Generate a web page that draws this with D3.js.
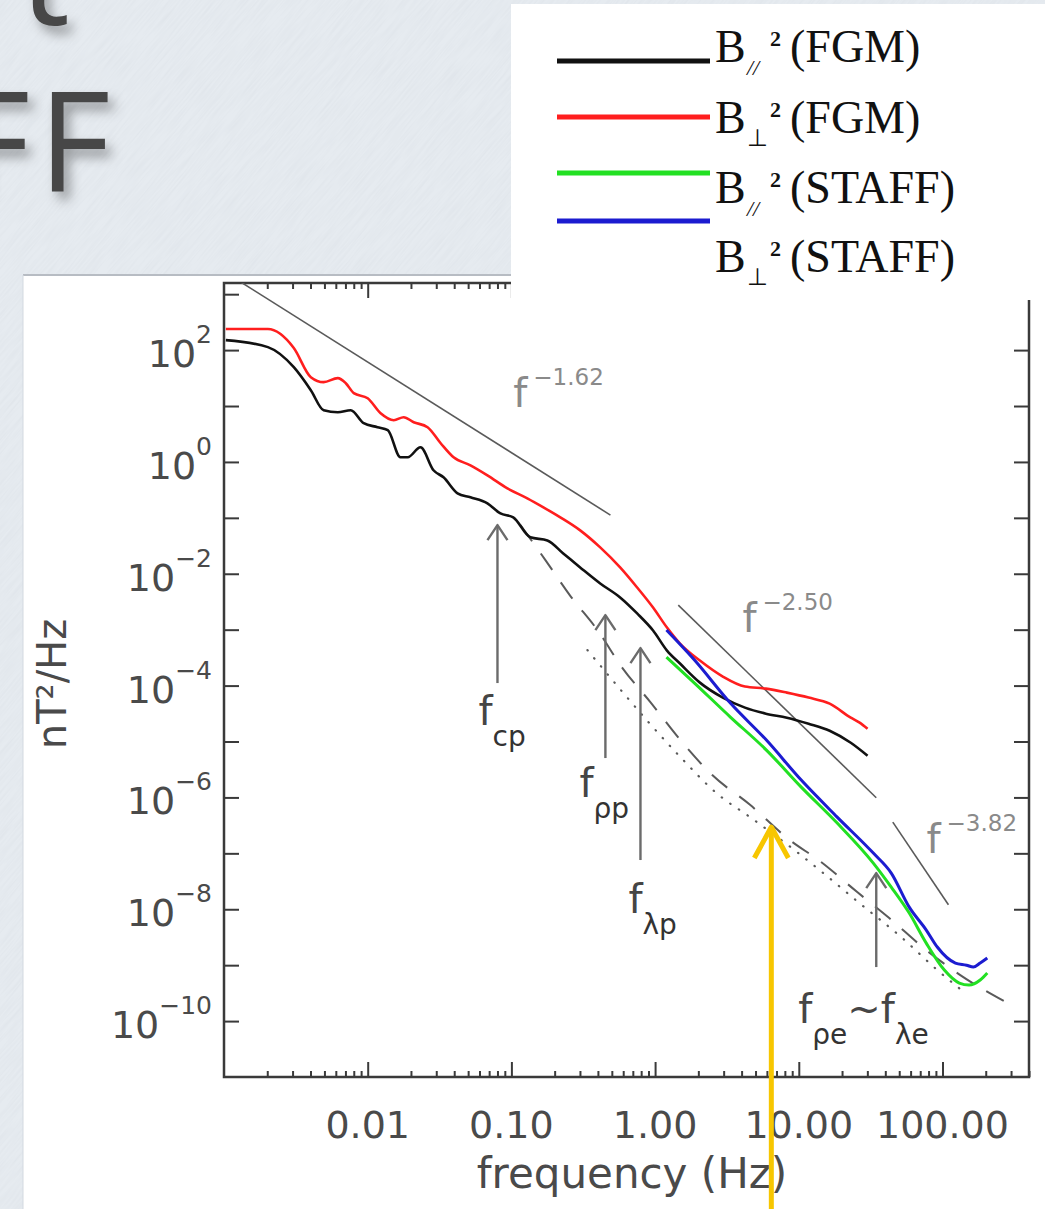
<!DOCTYPE html>
<html>
<head>
<meta charset="utf-8">
<script src="https://cdn.jsdelivr.net/npm/d3@7"></script>
<style>
  body { margin: 0; background: #e6ebf0; }
  svg { display: block; }
</style>
</head>
<body>
<div id="chart"></div>
<script>
// ---------- values ----------
const xDomain = [0.001, 400];
const yDomain = [1e-11, Math.pow(10, 3.2)];

const xMajorTicks = [0.01, 0.1, 1, 10, 100];
const xTickLabels = ["0.01", "0.10", "1.00", "10.00", "100.00"];
const yTickExponents = [-10, -9, -8, -7, -6, -5, -4, -3, -2, -1, 0, 1, 2, 3];
const yLabelExponents = [-10, -8, -6, -4, -2, 0, 2];

// B_par^2 (FGM) - black
const fgmParFreq = [0.00103, 0.00202, 0.00306, 0.00402, 0.00494, 0.00619, 0.00762, 0.00938, 0.0117, 0.0138,
  0.0169, 0.0190, 0.0233, 0.0287, 0.0337, 0.0422, 0.0519, 0.0681, 0.0839, 0.103,
  0.1355, 0.178, 0.2296, 0.301, 0.415, 0.571, 0.750, 0.968, 1.21, 1.49,
  2.05, 2.96, 4.22, 5.90, 8.26, 11.7, 16.4, 23.0, 30.1];
const fgmParPsd = [151, 113, 49.5, 19.2, 8.4, 7.75, 8.4, 4.92, 4.18, 3.69,
  1.21, 1.21, 1.83, 0.71, 0.531, 0.275, 0.233, 0.182, 0.120, 0.102,
  0.0448, 0.0395, 0.0231, 0.0130, 0.00671, 0.00377, 0.00195, 0.000966, 0.000423, 0.000248,
  0.000113, 6.1e-5, 4.04e-5, 3.15e-5, 2.67e-5, 2.08e-5, 1.56e-5, 9.5e-6, 5.57e-6];

// B_perp^2 (FGM) - red
const fgmPerpFreq = [0.00103, 0.00202, 0.00306, 0.00402, 0.00494, 0.00619, 0.00704, 0.0080, 0.0100, 0.0123,
  0.0152, 0.0178, 0.0209, 0.0261, 0.0322, 0.0396, 0.0519, 0.0681, 0.0938, 0.129,
  0.167, 0.219, 0.301, 0.415, 0.571, 0.750, 0.968, 1.21, 1.49, 2.05,
  2.96, 4.22, 5.90, 8.26, 11.7, 16.4, 23.0, 26.5, 30.1];
const fgmPerpPsd = [238, 238, 109, 32.8, 26.7, 31.5, 25.6, 17, 13.8, 7.45,
  5.58, 6.31, 5.13, 4.18, 2.16, 1.21, 0.871, 0.577, 0.337, 0.223,
  0.154, 0.102, 0.0597, 0.0296, 0.0130, 0.00569, 0.00249, 0.00109, 0.000565, 0.00028,
  0.000145, 9.6e-5, 8.83e-5, 7.48e-5, 6.1e-5, 4.75e-5, 2.67e-5, 2.17e-5, 1.69e-5];

// B_par^2 (STAFF) - green
const staffParFreq = [1.20, 1.88, 3.34, 5.95, 10.4, 18.5, 33.0, 44.0, 58.7, 77.1, 103, 131, 153, 183, 205];
const staffParPsd = [3.24e-4, 1.11e-4, 2.74e-5, 7.03e-6, 1.53e-6, 3.48e-7, 6.7e-8, 2.49e-8, 8.55e-9, 2.48e-9,
  8.18e-10, 4.79e-10, 4.41e-10, 5.42e-10, 7.23e-10];

// B_perp^2 (STAFF) - blue
const staffPerpFreq = [1.20, 1.88, 3.34, 5.95, 10.4, 18.5, 33.0, 44.0, 58.7, 77.1, 92.0, 123, 147, 164, 183, 205];
const staffPerpPsd = [9.84e-4, 2.86e-4, 4.86e-5, 1.06e-5, 2.04e-6, 4.45e-7, 1.01e-7, 4.44e-8, 1.09e-8, 4.25e-9,
  2.11e-9, 1.09e-9, 1.0e-9, 9.25e-10, 1.09e-9, 1.34e-9];

// model spectra (dashed and dotted)
const dashedFreq = [0.1156, 0.1725, 0.2576, 0.397, 0.593, 0.927, 1.50, 2.50, 4.60, 8.32, 14.3, 25.5, 42.6, 77.1, 133, 300];
const dashedPsd = [0.0743, 0.01758, 0.00399, 9.84e-4, 2.06e-4, 5.07e-5, 1.06e-5, 2.51e-6, 7.3e-7, 1.87e-7,
  6.98e-8, 2.03e-8, 6.97e-9, 1.86e-9, 6.65e-10, 1.94e-10];
const dottedFreq = [0.338, 0.602, 0.898, 1.50, 2.67, 4.68, 9.31, 14.8, 26.4, 51.6, 92.0, 144];
const dottedPsd = [4.32e-4, 7.35e-5, 2.23e-5, 5.27e-6, 1.2e-6, 4.27e-7, 1.15e-7, 4.44e-8, 1.29e-8, 3.18e-9, 8.18e-10, 3.17e-10];

// power-law fits: reference point, exponent and frequency range
const powerLawExponents = [-1.62, -2.50, -3.82];
const powerLawRefFreq = [0.489, 1.45, 45.1];
const powerLawRefPsd = [0.112, 2.75e-3, 3.62e-7];
const powerLawFreqStart = [0.001, 1.45, 45.1];
const powerLawFreqEnd = [0.489, 34.6, 110];
const powerLawLabels = ["\u22121.62", "\u22122.50", "\u22123.82"];
const powerLawLabelFreq = [0.103, 4.05, 77.4];
const powerLawLabelPsd = [9.57, 9.06e-4, 1.01e-7];

// characteristic frequencies (arrows)
const markerFreq = [0.080, 0.451, 0.791, 34.6];
const markerTipPsd = [0.0743, 1.82e-3, 4.69e-4, 4.44e-8];
const markerTailPsd = [1.11e-4, 5.06e-6, 7.59e-8, 9.25e-10];
const markerLabels = [[["f", "cp"]], [["f", "\u03c1p"]], [["f", "\u03bbp"]], [["f", "\u03c1e"], ["~f", "\u03bbe"]]];

// highlighted frequency (yellow arrow)
const highlightFreq = 6.44;
const highlightTipPsd = 2.95e-7;

// legend
const legendSubs = ["//", "\u22a5", "//", "\u22a5"];
const legendInstruments = ["(FGM)", "(FGM)", "(STAFF)", "(STAFF)"];

// ---------- layout and styles ----------
const W = 1045, H = 1209;
const frame = { left: 224, right: 1029, top: 283, bottom: 1077 };
const seriesColors = ["#111111", "#ff1e1e", "#22e022", "#1c1cd0"];
const axisColor = "#3a3a3a";
const labelColor = "#4a4a4a";
const guideColor = "#5a5a5a";
const markerLabelOffset = [[-19, 42], [-26, 39], [-12, 53], [-78, 56]];
const legendLineY = [61, 117, 173, 221];
const legendTextY = [62, 133, 203, 272];

const svg = d3.select("#chart").append("svg")
  .attr("width", W)
  .attr("height", H)
  .style("font-family", "'DejaVu Sans', sans-serif");

const defs = svg.append("defs");

// paper texture of the slide background
const paper = defs.append("filter").attr("id", "paperNoise")
  .attr("x", 0).attr("y", 0).attr("width", "100%").attr("height", "100%");
paper.append("feTurbulence")
  .attr("type", "fractalNoise")
  .attr("baseFrequency", "0.6 0.03")
  .attr("numOctaves", 2)
  .attr("seed", 4);
paper.append("feColorMatrix")
  .attr("type", "matrix")
  .attr("values", "0 0 0 0 0.62  0 0 0 0 0.66  0 0 0 0 0.71  0.5 0 0 0 -0.18");

const ink = defs.append("filter").attr("id", "inkShadow")
  .attr("x", "-20%").attr("y", "-20%").attr("width", "150%").attr("height", "150%");
ink.append("feDropShadow")
  .attr("dx", 6).attr("dy", 8)
  .attr("stdDeviation", 6)
  .attr("flood-color", "#000")
  .attr("flood-opacity", 0.35);

defs.append("clipPath").attr("id", "plotClip")
  .append("rect")
  .attr("x", frame.left).attr("y", frame.top)
  .attr("width", frame.right - frame.left)
  .attr("height", frame.bottom - frame.top);

// background
svg.append("rect").attr("width", W).attr("height", H).attr("fill", "#e6ebf0");
svg.append("g")
  .attr("transform", `rotate(40 ${W / 2} ${H / 2})`)
  .append("rect")
  .attr("x", -700).attr("y", -700)
  .attr("width", W + 1400).attr("height", H + 1400)
  .attr("filter", "url(#paperNoise)");

// handwritten slide title, cut off by the slide edge
const title = svg.append("text")
  .attr("filter", "url(#inkShadow)")
  .attr("fill", "#474747")
  .attr("font-size", 140)
  .style("font-family", "'Open Sans', sans-serif");
title.append("tspan").attr("x", 20).attr("y", 25).text("t");
title.append("tspan").attr("x", -42).attr("y", 192).attr("letter-spacing", 8).text("FF");

// white panel holding the figure
svg.append("rect")
  .attr("x", 23).attr("y", 275)
  .attr("width", W - 23).attr("height", H - 275)
  .attr("fill", "#ffffff");
svg.append("line")
  .attr("x1", 23).attr("x2", 511).attr("y1", 275).attr("y2", 275)
  .attr("stroke", "#b7bcc3").attr("stroke-width", 2);
svg.append("line")
  .attr("x1", 23).attr("x2", 23).attr("y1", 275).attr("y2", H)
  .attr("stroke", "#d3d9e0").attr("stroke-width", 1);

// ---------- scales ----------
const x = d3.scaleLog().domain(xDomain).range([frame.left, frame.right]);
const y = d3.scaleLog().domain(yDomain).range([frame.bottom, frame.top]);

const plot = svg.append("g");

const isDecade = v => Math.abs(Math.log10(v) - Math.round(Math.log10(v))) < 1e-6;
const xMinor = x.ticks().filter(v => !isDecade(v));
const yTicks = yTickExponents.map(e => Math.pow(10, e));

const styleTicks = g => {
  g.select(".domain").remove();
  g.selectAll(".tick line").attr("stroke", axisColor).attr("stroke-width", 2);
  g.selectAll(".tick text").remove();
};

plot.append("g").attr("transform", `translate(0,${frame.bottom})`)
  .call(d3.axisBottom(x).tickValues(xMajorTicks).tickSize(-15).tickFormat("")).call(styleTicks);
plot.append("g").attr("transform", `translate(0,${frame.bottom})`)
  .call(d3.axisBottom(x).tickValues(xMinor).tickSize(-6).tickFormat("")).call(styleTicks);
plot.append("g").attr("transform", `translate(0,${frame.top})`)
  .call(d3.axisTop(x).tickValues(xMajorTicks).tickSize(-15).tickFormat("")).call(styleTicks);
plot.append("g").attr("transform", `translate(0,${frame.top})`)
  .call(d3.axisTop(x).tickValues(xMinor).tickSize(-6).tickFormat("")).call(styleTicks);
plot.append("g").attr("transform", `translate(${frame.left},0)`)
  .call(d3.axisLeft(y).tickValues(yTicks).tickSize(-15).tickFormat("")).call(styleTicks);
plot.append("g").attr("transform", `translate(${frame.right},0)`)
  .call(d3.axisRight(y).tickValues(yTicks).tickSize(-15).tickFormat("")).call(styleTicks);

plot.append("rect")
  .attr("x", frame.left).attr("y", frame.top)
  .attr("width", frame.right - frame.left)
  .attr("height", frame.bottom - frame.top)
  .attr("fill", "none")
  .attr("stroke", axisColor)
  .attr("stroke-width", 2.5);

// tick labels
plot.append("g").selectAll("text")
  .data(xMajorTicks)
  .join("text")
  .attr("x", d => x(d))
  .attr("y", frame.bottom + 61)
  .attr("text-anchor", "middle")
  .attr("font-size", 38)
  .attr("fill", labelColor)
  .text((d, i) => xTickLabels[i]);

const yLab = plot.append("g").selectAll("text")
  .data(yLabelExponents)
  .join("text")
  .attr("x", frame.left - 12)
  .attr("y", d => y(Math.pow(10, d)) + 17)
  .attr("text-anchor", "end")
  .attr("font-size", 38)
  .attr("fill", labelColor);
yLab.append("tspan").text("10");
yLab.append("tspan")
  .attr("dy", -24)
  .attr("font-size", 25)
  .text(d => d < 0 ? "\u2212" + (-d) : String(d));

// axis titles
svg.append("text")
  .attr("x", 632).attr("y", 1188)
  .attr("text-anchor", "middle")
  .attr("font-size", 42)
  .attr("fill", labelColor)
  .text("frequency (Hz)");
svg.append("text")
  .attr("transform", "translate(66,684) rotate(-90)")
  .attr("text-anchor", "middle")
  .attr("font-size", 40)
  .attr("fill", labelColor)
  .text("nT\u00b2/Hz");

// ---------- curves ----------
const zip = (f, p) => f.map((v, i) => [v, p[i]]);
const line = d3.line()
  .x(d => x(d[0]))
  .y(d => y(d[1]))
  .curve(d3.curveMonotoneX);

const curves = plot.append("g").attr("clip-path", "url(#plotClip)");

// power-law guides
powerLawExponents.forEach((a, i) => {
  const pts = [powerLawFreqStart[i], powerLawFreqEnd[i]]
    .map(f => [f, powerLawRefPsd[i] * Math.pow(f / powerLawRefFreq[i], a)]);
  curves.append("path")
    .attr("d", d3.line().x(d => x(d[0])).y(d => y(d[1]))(pts))
    .attr("fill", "none")
    .attr("stroke", guideColor)
    .attr("stroke-width", 1.6);
});

// model spectra
curves.append("path")
  .attr("d", line(zip(dashedFreq, dashedPsd)))
  .attr("fill", "none")
  .attr("stroke", guideColor)
  .attr("stroke-width", 2)
  .attr("stroke-dasharray", "20,15");
curves.append("path")
  .attr("d", line(zip(dottedFreq, dottedPsd)))
  .attr("fill", "none")
  .attr("stroke", guideColor)
  .attr("stroke-width", 2.2)
  .attr("stroke-linecap", "round")
  .attr("stroke-dasharray", "0.5,10");

// measured spectra
const spectra = [
  zip(fgmParFreq, fgmParPsd),
  zip(fgmPerpFreq, fgmPerpPsd),
  zip(staffParFreq, staffParPsd),
  zip(staffPerpFreq, staffPerpPsd)
];
const spectraWidths = [2.6, 2.6, 3, 3];
spectra.forEach((s, i) => {
  curves.append("path")
    .attr("d", line(s))
    .attr("fill", "none")
    .attr("stroke", seriesColors[i])
    .attr("stroke-width", spectraWidths[i])
    .attr("stroke-linejoin", "round");
});

// power-law labels
powerLawLabels.forEach((lab, i) => {
  const t = plot.append("text")
    .attr("x", x(powerLawLabelFreq[i]))
    .attr("y", y(powerLawLabelPsd[i]))
    .attr("font-size", 40)
    .attr("fill", "#8a8a8a");
  t.append("tspan").text("f");
  t.append("tspan").attr("dx", 6).attr("dy", -22).attr("font-size", 23).text(lab);
});

// ---------- arrows ----------
function arrow(g, px, yTip, yTail, color, width, wing, drop) {
  g.append("line")
    .attr("x1", px).attr("x2", px)
    .attr("y1", yTail).attr("y2", yTip + 1)
    .attr("stroke", color).attr("stroke-width", width);
  g.append("path")
    .attr("d", `M${px - wing},${yTip + drop} L${px},${yTip} L${px + wing},${yTip + drop}`)
    .attr("fill", "none")
    .attr("stroke", color)
    .attr("stroke-width", width)
    .attr("stroke-linejoin", "round");
}

const markers = plot.append("g");
markerFreq.forEach((f, i) => {
  const px = x(f);
  arrow(markers, px, y(markerTipPsd[i]), y(markerTailPsd[i]), "#6b6b6b", 2.4, 10, 15);

  const t = markers.append("text")
    .attr("x", px + markerLabelOffset[i][0])
    .attr("y", y(markerTailPsd[i]) + markerLabelOffset[i][1])
    .attr("font-size", 40)
    .attr("fill", "#454545");
  markerLabels[i].forEach((pair, j) => {
    t.append("tspan").attr("dy", j === 0 ? 0 : -21).attr("font-size", 40).text(pair[0]);
    t.append("tspan").attr("dy", 21).attr("font-size", 28).attr("fill", "#333").text(pair[1]);
  });
});

// yellow highlight arrow (runs off the bottom of the slide)
arrow(svg.append("g"), x(highlightFreq), y(highlightTipPsd), H + 5, "#f7c600", 5, 17, 31);

// ---------- legend (pasted box over the top of the figure) ----------
svg.append("rect")
  .attr("x", 511).attr("y", 4)
  .attr("width", W - 511).attr("height", 296)
  .attr("fill", "#ffffff");

const legend = svg.append("g").style("font-family", "'Liberation Serif', 'Times New Roman', serif");
legend.selectAll("line")
  .data(seriesColors)
  .join("line")
  .attr("x1", 557).attr("x2", 710)
  .attr("y1", (d, i) => legendLineY[i])
  .attr("y2", (d, i) => legendLineY[i])
  .attr("stroke", d => d)
  .attr("stroke-width", 5);

legendSubs.forEach((sub, i) => {
  const base = legendTextY[i];
  legend.append("text").attr("x", 715).attr("y", base)
    .attr("font-size", 46).attr("fill", "#111").text("B");
  legend.append("text").attr("x", 747).attr("y", base + 13)
    .attr("font-size", sub === "//" ? 22 : 24)
    .attr("font-style", sub === "//" ? "italic" : "normal")
    .attr("fill", "#111").text(sub);
  legend.append("text").attr("x", 770).attr("y", base - 16)
    .attr("font-size", 22).attr("font-weight", "bold")
    .attr("fill", "#111").text("2");
  legend.append("text").attr("x", 790).attr("y", base)
    .attr("font-size", 46).attr("fill", "#111").text(legendInstruments[i]);
});
</script>
</body>
</html>
